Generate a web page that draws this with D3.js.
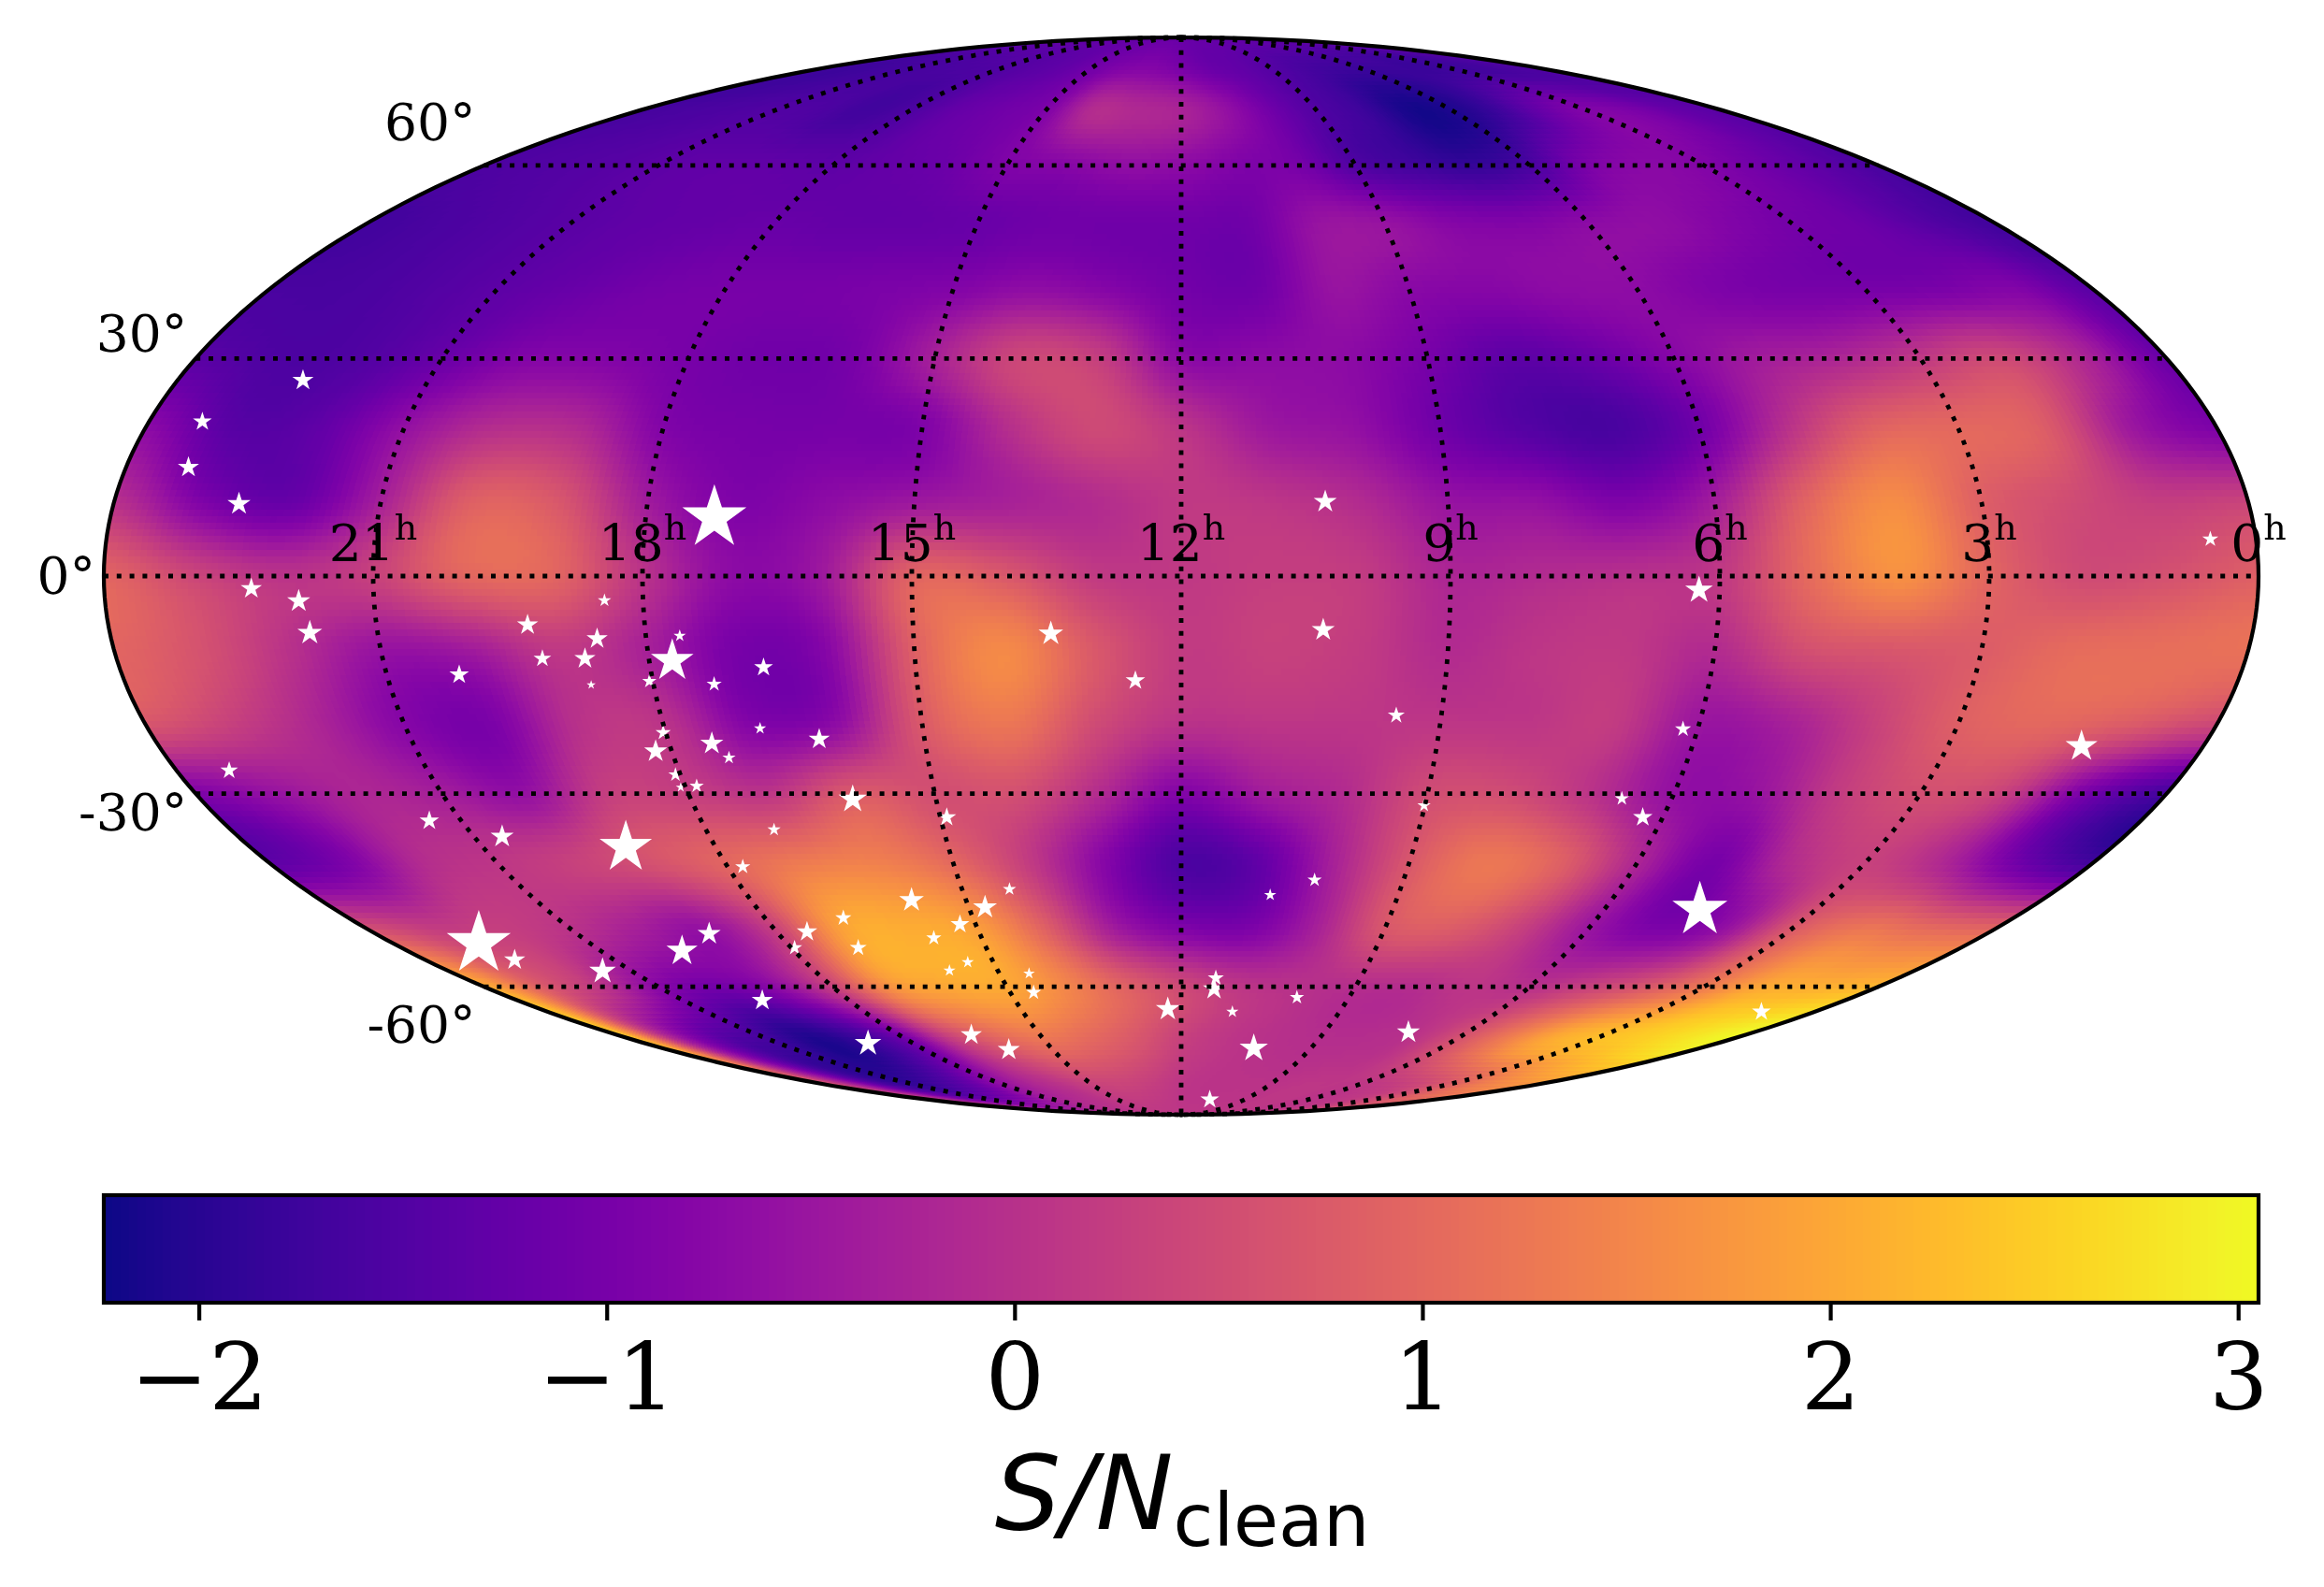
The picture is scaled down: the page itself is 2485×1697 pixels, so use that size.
<!DOCTYPE html>
<html>
<head>
<meta charset="utf-8">
<script src="https://cdnjs.cloudflare.com/ajax/libs/d3/7.8.5/d3.min.js"></script>
<style>
  html, body { margin: 0; padding: 0; background: #fff; }
  #app { position: relative; width: 2485px; height: 1697px; }
  #app canvas, #app svg { position: absolute; left: 0; top: 0; }
</style>
</head>
<body>
<div id="app"></div>
<script>
'use strict';

// S/N map: one row per declination, one column per RA hour (24h on the left)
const decRows = [90, 80, 70, 60, 50, 40, 30, 20, 10, 0, -10, -20, -30, -40, -50, -60, -70, -80, -90];
const raCols = d3.range(24, -1, -1);
const snGrid = [
  [-1.2,-1.2,-1.2,-1.2,-1.2,-1.2,-1.2,-1.2,-1.2,-1.2,-1.2,-1.2,-1.2,-1.2,-1.2,-1.2,-1.2,-1.2,-1.2,-1.2,-1.2,-1.2,-1.2,-1.2,-1.2],
  [-1.7,-1.75,-1.7,-1.65,-1.6,-1.55,-1.5,-1.4,-1.3,-1.1,-.9,-.85,-1,-1.2,-1.3,-1.45,-1.6,-1.7,-1.75,-1.75,-1.8,-1.75,-1.7,-1.6,-1.5],
  [-1.65,-1.6,-1.55,-1.5,-1.55,-1.7,-1.55,-1.25,-1.1,-.9,-.1,-.15,-.25,-.6,-1.1,-1.5,-1.75,-2.15,-2.1,-1.75,-1.2,-.85,-.95,-1.25,-1.4],
  [-1.55,-1.5,-1.45,-1.35,-1.3,-1.3,-1.35,-1.25,-1.15,-.9,-.8,-.65,-.7,-.9,-1,-1.5,-1.7,-1.85,-1.6,-.95,-.75,-.85,-1.1,-1.35,-1.6],
  [-1.7,-1.6,-1.5,-1.4,-1.3,-1.25,-1.2,-1.25,-1.25,-1.2,-1.1,-1.1,-1.1,-1.1,-.55,-.55,-.8,-.85,-.7,-.65,-.85,-1.05,-1.15,-1.45,-1.7],
  [-1.6,-1.6,-1.5,-1.35,-1.2,-1.05,-1,-1,-.95,-.85,-.65,-.8,-1.05,-1.1,-.55,-.75,-.8,-.7,-.7,-.9,-1,-1,-.95,-.85,-1.4],
  [-1.4,-1.55,-1.5,-1.2,-.85,-.85,-1,-1.1,-1,-.3,.4,.25,-.7,-.7,-.7,-1,-1.35,-1.2,-.8,-.4,-.2,.15,.45,-.2,-1.2],
  [-.7,-1.4,-1.3,-.6,-.05,-.1,-.85,-1,-1,-.9,-.05,.45,.1,-.45,-.6,-1.1,-1.45,-1.6,-1.1,0,.9,1,.8,-.45,-.9],
  [0,-.9,-1.2,-.3,.85,.7,-.4,-.9,-.7,-.45,-.3,-.1,.15,.1,-.1,-.55,-.6,-.9,-.35,.9,1.6,.85,.5,.25,.35],
  [.95,.4,.05,.3,.95,.95,.05,-.7,-.45,.9,.75,.2,.15,.25,.2,-.2,-.1,0,.15,1.05,1.65,.95,.5,.6,.85],
  [.95,.6,0,-.55,-.4,.15,-.3,-1,-.8,.85,1.55,.75,.2,.3,.2,-.1,.1,.15,-.1,.55,.7,.8,1.05,1.1,1.15],
  [.7,.3,-.2,-.8,-.95,0,.05,-.85,-.7,.75,1.25,.5,.05,.1,.1,.1,.1,.2,-.5,-.3,.3,.85,1,.8,.45],
  [-.9,-.55,-.2,-.35,-.6,.25,.25,.1,.75,.55,.55,-.1,-.85,-.4,-.1,.5,.5,.05,-.6,-.55,.2,.55,.3,-1,-1.65],
  [-1.35,-.95,-.1,.1,.3,.6,.95,1.3,1.4,1,.2,-.8,-1.55,-1.3,-.3,.7,1.25,.85,-.2,-1,-.1,.3,-.15,-1.1,-1.7],
  [.5,.2,.25,.05,-.3,-.55,.3,1.9,2.05,1.85,.85,-.4,-.9,-.95,-.3,.7,.8,.3,-.5,-.95,-.6,.7,1.2,1,.9],
  [2.1,.8,.1,-.75,-1.05,-.7,.3,1.7,2,2,1.5,.9,.45,.1,0,-.05,-.05,.1,0,.3,.7,1.3,2,2.1,2.2],
  [2.6,-.2,-1.4,-1.7,-2.1,-1.8,-1.1,.2,.9,1.2,1,.7,.3,.1,0,-.05,-.05,.05,.6,1.3,2,2.3,2.5,2.8,3.05],
  [.8,-.3,-1.5,-1.85,-1.6,-1.2,-.6,-.2,.05,.3,.35,.25,.1,.05,.05,.05,.1,.1,.1,.2,.4,.8,1.3,1.6,1.75],
  [.1,.1,.1,.1,.1,.1,.1,.1,.1,.1,.1,.1,.1,.1,.1,.1,.1,.1,.1,.1,.1,.1,.1,.1,.1]
];

// stars: right ascension (h), declination (deg), scatter size
const starRA = [22.5,23.38,23.29,22.59,17.23,10.38,.51,6.23,22.36,21.84,21.76,18.43,19.31,18.55,19.2,18.72,18.71,20.18,17.74,17.62,18.04,17.31,16.72,16.89,16.23,18.03,18.19,17.5,17.35,18.06,17.86,18.06,23.37,21.4,20.64,19.16,17.14,17.8,22.7,22.58,21.48,19.74,19.03,19.57,17.55,17.95,16.02,14.92,13.46,12.52,10.41,9.52,9.01,15.76,16.87,14.35,14.77,15.23,15.72,16.97,15.41,15.79,14.51,14.59,19.01,16.46,16.03,12.25,11.42,11.43,11.03,9.93,10.32,7.24,10.65,10.2,10.77,6.17,6.61,6.25,4.64,1.01,1.43];
const starDec = [26.9,21.1,14.8,9.8,7.9,10.1,5,-1.9,-1.7,-3.4,-7.7,-3.3,-6.6,-8.5,-11.2,-11.2,-14.8,-13.4,-11.5,-8.1,-14.3,-14.7,-12.4,-20.8,-22.3,-21.4,-24,-22.9,-24.9,-27.3,-28.9,-29.1,-26.7,-33.9,-36.2,-37.8,-35.2,-40.7,-52.7,-55.4,-57.3,-53.9,-51.1,-62.4,-50.8,-53.4,-30.8,-33.4,-7.8,-14.2,-7.3,-19,-31.7,-45.8,-48.6,-44.1,-46.9,-49.6,-51.8,-53.4,-55.8,-57.2,-57.7,-61,-70.6,-68.9,-71.9,-64,-58.5,-60.4,-64.5,-61.9,-71.6,-68.4,-83.9,-42.7,-45,-20.9,-30.7,-33.4,-47.3,-64.5,-23.3];
const starSize = [33,26,33,39,300,39,19,56,33,39,45,13,33,33,23,33,6,28,133,11,15,17,26,11,33,17,39,39,13,15,15,7,23,28,39,201,13,17,300,33,52,71,39,33,31,17,59,26,45,28,39,21,13,45,19,13,42,26,17,21,11,11,10,17,52,33,36,42,19,36,11,15,59,39,26,15,11,19,15,28,222,26,75];

const raTicks = [21, 18, 15, 12, 9, 6, 3, 0];
const decTicks = [60, 30, 0, -30, -60];
const decLabels = ["60°", "30°", "0°", "-30°", "-60°"];
const decLabelDy = [-27, -7, 19, 39, 60];
const cbarTicks = [-2, -1, 0, 1, 2, 3];
const snMin = -2.233;
const snMax = 3.05;

const width = 2485;
const height = 1697;
const mapCx = 1263;
const mapCy = 616;
const mapHalfW = 1152;
const cbarTop = 1278;
const cbarBottom = 1393;

const serif = "'DejaVu Serif', serif";
const sans = "'DejaVu Sans', sans-serif";

// Mollweide, not part of d3-geo core
function mollweideRaw(lambda, phi) {
  let theta = phi;
  if (Math.abs(Math.abs(phi) - Math.PI / 2) < 1e-9) {
    theta = phi;
  } else {
    const k = Math.PI * Math.sin(phi);
    for (let i = 0; i < 30; i++) {
      const d = (2 * theta + Math.sin(2 * theta) - k) / (2 + 2 * Math.cos(2 * theta));
      theta -= d;
      if (Math.abs(d) < 1e-9) break;
    }
  }
  return [2 * Math.SQRT2 / Math.PI * lambda * Math.cos(theta), Math.SQRT2 * Math.sin(theta)];
}
mollweideRaw.invert = function (x, y) {
  const theta = Math.asin(y / Math.SQRT2);
  return [Math.PI * x / (2 * Math.SQRT2 * Math.cos(theta)),
          Math.asin((2 * theta + Math.sin(2 * theta)) / Math.PI)];
};

const projection = d3.geoProjection(mollweideRaw)
  .scale(mapHalfW / (2 * Math.SQRT2))
  .translate([mapCx, mapCy])
  .precision(0.1);
const path = d3.geoPath(projection);
const raToLon = ra => (12 - ra) * 15;

const color = d3.scaleSequential(d3.interpolatePlasma).domain([snMin, snMax]);

// smooth lookup in the coarse table
function catmull(a, b, c, d, t) {
  return b + 0.5 * t * (c - a + t * (2 * a - 5 * b + 4 * c - d + t * (3 * (b - c) + d - a)));
}
function snAt(ra, dec) {
  const nr = decRows.length, nc = raCols.length;
  const v = (90 - dec) / 10, u = 24 - ra;
  const r0 = Math.min(nr - 2, Math.floor(v)), c0 = Math.min(nc - 2, Math.floor(u));
  const tv = v - r0, tu = u - c0;
  const rows = [];
  for (let r = r0 - 1; r <= r0 + 2; r++) {
    const row = snGrid[Math.max(0, Math.min(nr - 1, r))];
    const cell = i => row[Math.max(0, Math.min(nc - 1, i))];
    rows.push(catmull(cell(c0 - 1), cell(c0), cell(c0 + 1), cell(c0 + 2), tu));
  }
  return catmull(rows[0], rows[1], rows[2], rows[3], tv);
}

// the map is a mesh of small lon/lat cells, painted pixel by pixel
const lonStep = 1, latStep = 0.9;
const nLon = Math.round(360 / lonStep), nLat = Math.round(180 / latStep);
const cellRGB = new Uint8Array(nLon * nLat * 3);
for (let j = 0; j < nLat; j++) {
  for (let i = 0; i < nLon; i++) {
    const lon = -180 + (i + 0.5) * lonStep, lat = 90 - (j + 0.5) * latStep;
    const c = d3.rgb(color(Math.max(snMin, Math.min(snMax, snAt(12 - lon / 15, lat)))));
    const k = (j * nLon + i) * 3;
    cellRGB[k] = c.r; cellRGB[k + 1] = c.g; cellRGB[k + 2] = c.b;
  }
}

const canvas = d3.select("#app").append("canvas")
  .attr("width", width).attr("height", height).node();
const ctx = canvas.getContext("2d");
const img = ctx.createImageData(width, height);
const mapHalfH = mapHalfW / 2;
for (let y = Math.floor(mapCy - mapHalfH); y <= mapCy + mapHalfH; y++) {
  const sy = (mapCy - (y + 0.5)) / mapHalfH;
  if (Math.abs(sy) >= 1) continue;
  const halfW = mapHalfW * Math.sqrt(1 - sy * sy);
  for (let x = Math.floor(mapCx - halfW); x <= mapCx + halfW; x++) {
    const g = projection.invert([x + 0.5, y + 0.5]);
    if (!g || !isFinite(g[0])) continue;
    const i = Math.max(0, Math.min(nLon - 1, Math.floor((g[0] + 180) / lonStep)));
    const j = Math.max(0, Math.min(nLat - 1, Math.floor((90 - g[1]) / latStep)));
    const k = (j * nLon + i) * 3, p = (y * width + x) * 4;
    img.data[p] = cellRGB[k]; img.data[p + 1] = cellRGB[k + 1]; img.data[p + 2] = cellRGB[k + 2]; img.data[p + 3] = 255;
  }
}
ctx.putImageData(img, 0, 0);

const svg = d3.select("#app").append("svg")
  .attr("width", width)
  .attr("height", height)
  .attr("viewBox", [0, 0, width, height]);

// stars
const rScale = d3.scaleSqrt().domain([0, 300]).range([0, 36]);
svg.append("g")
    .attr("fill", "white")
  .selectAll("path")
  .data(d3.range(starRA.length))
  .join("path")
    .attr("transform", i => {
      const p = projection([raToLon(starRA[i]), starDec[i]]);
      return `translate(${p[0]},${p[1]})`;
    })
    .attr("d", i => d3.symbol(d3.symbolStar, rScale(starSize[i]) ** 2 / 0.8908)());

// grid
const grid = svg.append("g")
  .attr("fill", "none")
  .attr("stroke", "black")
  .attr("stroke-width", 4.8)
  .attr("stroke-dasharray", "5 8.8");
grid.selectAll(".meridian")
  .data(raTicks.filter(d => d !== 0))
  .join("path")
    .attr("class", "meridian")
    .attr("d", d => path({type: "LineString", coordinates: d3.range(90, -90.5, -1).map(lat => [raToLon(d), lat])}));
grid.selectAll(".parallel")
  .data(decTicks)
  .join("path")
    .attr("class", "parallel")
    .attr("d", d => {
      const x0 = projection([-179.999, d])[0], x1 = projection([179.999, d])[0], y = projection([0, d])[1];
      return d3.line()([[x0, y], [x1, y]]);
    });

svg.append("path")
  .attr("d", path({type: "Sphere"}))
  .attr("fill", "none")
  .attr("stroke", "black")
  .attr("stroke-width", 4.2);

// coordinate labels
svg.append("g")
    .attr("font-family", serif)
    .attr("font-size", 55)
    .attr("text-anchor", "end")
  .selectAll("text")
  .data(decTicks)
  .join("text")
    .attr("x", d => projection([-179.999, d])[0] - 9)
    .attr("y", (d, i) => projection([0, d])[1] + decLabelDy[i])
    .text((d, i) => decLabels[i]);

const raLabels = svg.append("g")
    .attr("font-family", serif)
    .attr("font-size", 55)
    .attr("text-anchor", "middle")
  .selectAll("text")
  .data(raTicks)
  .join("text")
    .attr("x", d => projection([d === 0 ? 179.999 : raToLon(d), 0])[0])
    .attr("y", mapCy - 16);
raLabels.append("tspan").text(d => d);
raLabels.append("tspan").attr("font-size", 38).attr("dy", -23).text("h");

// colorbar
const cbarX = d3.scaleLinear().domain([snMin, snMax]).range([111, 2415]);
const steps = d3.range(256).map(i => snMin + (snMax - snMin) * i / 256);
const cbar = svg.append("g");
cbar.selectAll("rect")
  .data(steps)
  .join("rect")
    .attr("x", d => cbarX(d))
    .attr("y", cbarTop)
    .attr("width", (cbarX.range()[1] - cbarX.range()[0]) / 256 + 0.6)
    .attr("height", cbarBottom - cbarTop)
    .attr("fill", d => color(d + (snMax - snMin) / 512));
cbar.append("rect")
  .attr("x", 111).attr("y", cbarTop)
  .attr("width", 2304).attr("height", cbarBottom - cbarTop)
  .attr("fill", "none").attr("stroke", "black").attr("stroke-width", 4.2);

svg.append("g")
    .attr("transform", `translate(0,${cbarBottom})`)
    .call(d3.axisBottom(cbarX).tickValues(cbarTicks).tickSize(19)
      .tickFormat(d => String(d).replace("-", "\u2212")))
    .call(g => g.select(".domain").remove())
    .call(g => g.selectAll(".tick line").attr("stroke", "black").attr("stroke-width", 4.2))
    .call(g => g.selectAll(".tick text")
      .attr("y", 114).attr("dy", 0)
      .attr("fill", "black")
      .attr("font-family", serif)
      .attr("font-size", 100));

// colorbar label
const xlabel = svg.append("text")
  .attr("x", mapCx + 1)
  .attr("y", 1635)
  .attr("text-anchor", "middle")
  .attr("font-family", sans)
  .attr("font-size", 111);
xlabel.append("tspan").attr("font-style", "italic").text("S/N");
xlabel.append("tspan").attr("font-size", 78).attr("dy", 18).text("clean");
</script>
</body>
</html>
